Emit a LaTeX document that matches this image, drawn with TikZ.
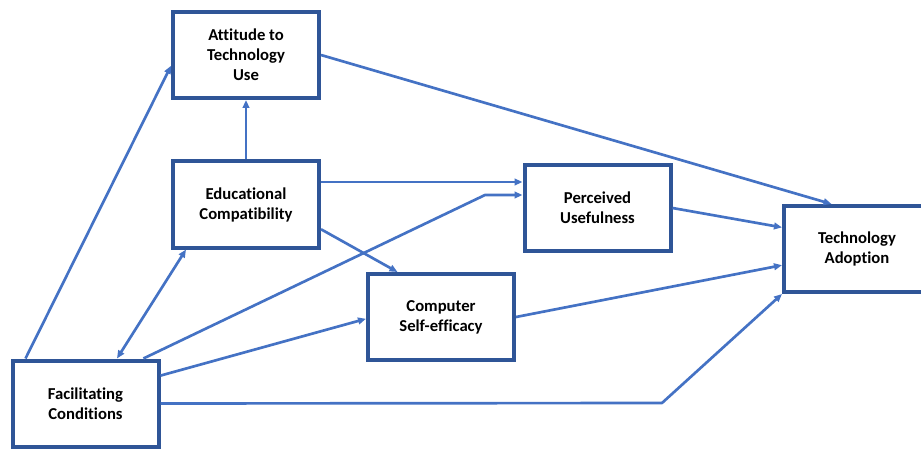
\documentclass[tikz,border=0pt]{standalone}
\usepackage{fontspec}
\setmainfont[Ligatures=NoCommon]{Carlito}
\usetikzlibrary{arrows.meta,calc}
\definecolor{boxblue}{HTML}{2F5597}
\definecolor{linkblue}{HTML}{4472C4}
\begin{document}
\begin{tikzpicture}[x=0.75pt,y=-0.75pt,
  construct/.style={draw=boxblue,line width=3pt,fill=white,
    minimum width=109.5pt,minimum height=64.5pt,inner sep=0pt,
    align=center,font=\bfseries\fontsize{12.5}{15}\selectfont},
  link/.style={draw=linkblue,line width=2pt,line join=round,
    -{Triangle[length=6pt,width=5pt]}},
  bilink/.style={link,{Triangle[length=6pt,width=5pt]}-{Triangle[length=6pt,width=5pt]}}]
\useasboundingbox (0,0) rectangle (921,449);
\clip (0,0) rectangle (921,449);

% constructs
\node[construct] (at) at (246,55)    {Attitude to\\Technology\\Use};
\node[construct] (ec) at (246,204.5) {Educational\\Compatibility};
\node[construct] (pu) at (597.5,208) {Perceived\\Usefulness};
\node[construct] (cs) at (441,317)   {Computer\\Self-efficacy};
\node[construct] (fc) at (85.5,403.5){Facilitating\\Conditions};
\node[construct] (ta) at (857,249)   {Technology\\Adoption};

% bend points of the routed paths
\coordinate (fcpu) at (485,195);
\coordinate (fcta) at (662,403);

% paths
\draw[link] ($(fc.north west)!0.10!(fc.north east)$) -- ($(at.north west)!0.62!(at.south west)$);
\draw[link] (ec.north) -- (at.south);
\draw[link] (at.east) -- ($(ta.north west)!0.33!(ta.north east)$);
\coordinate (ecpu) at ($(ec.north east)!0.25!(ec.south east)$);
\draw[link] (ecpu) -- (ecpu -| pu.west);
\draw[link] ($(fc.north west)!0.886!(fc.north east)$) -- (fcpu) -- (fcpu -| pu.west);
\draw[link] ($(ec.north east)!0.775!(ec.south east)$) -- ($(cs.north west)!0.21!(cs.north east)$);
\draw[bilink] ($(fc.north west)!0.71!(fc.north east)$) -- ($(ec.south west)!0.10!(ec.south east)$);
\draw[link] ($(fc.north east)!0.19!(fc.south east)$) -- ($(cs.north west)!0.52!(cs.south west)$);
\draw[link] (fc.east) -- (fcta) -- (ta.south west);
\draw[link] (pu.east) -- ($(ta.north west)!0.26!(ta.south west)$);
\draw[link] (cs.east) -- ($(ta.north west)!0.68!(ta.south west)$);
\end{tikzpicture}
\end{document}
